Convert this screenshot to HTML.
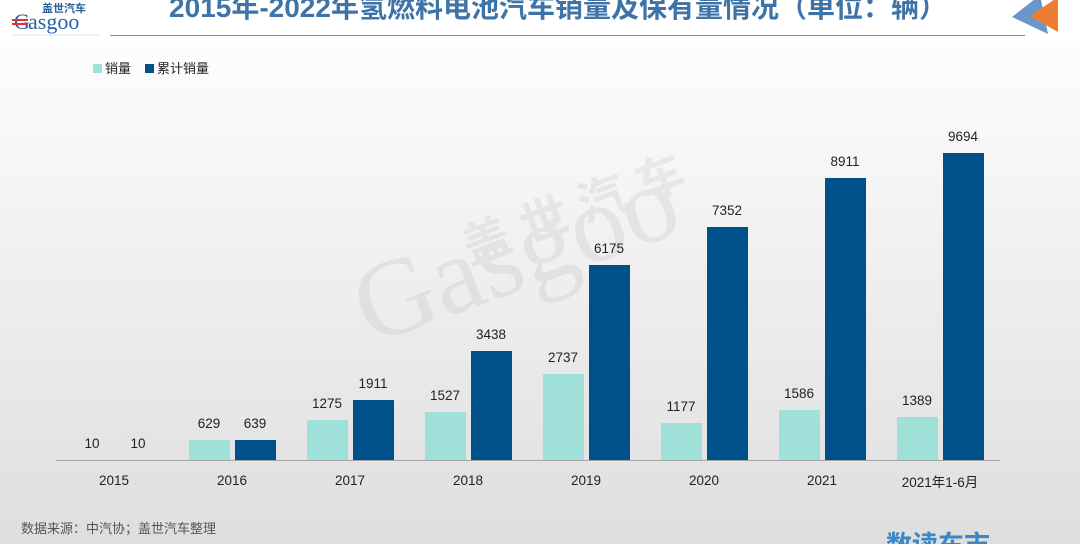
<!DOCTYPE html>
<html><head><meta charset="utf-8"><style>
html,body{margin:0;padding:0;}
body{width:1080px;height:544px;overflow:hidden;font-family:"Liberation Sans","Noto Sans CJK SC",sans-serif;}
</style></head><body>
<svg width="1080" height="544" viewBox="0 0 1080 544" xmlns="http://www.w3.org/2000/svg" font-family="Liberation Sans, Noto Sans CJK SC, sans-serif">
<defs><linearGradient id="bg" x1="0" y1="0" x2="0" y2="1">
<stop offset="0" stop-color="#ffffff"/><stop offset="0.15" stop-color="#fbfbfb"/><stop offset="1" stop-color="#dedede"/></linearGradient></defs>
<rect width="1080" height="544" fill="url(#bg)"/>
<rect width="1080" height="40" fill="#ffffff"/>
<!-- logo -->
<text x="42" y="12" font-size="11" font-weight="bold" fill="#2a5fa0">盖世汽车</text>
<text x="28" y="29" font-size="22" fill="#2a5fa0" font-family="Liberation Serif, serif">asgoo</text>
<text x="14" y="29" font-size="22" fill="#2a5fa0" font-family="Liberation Serif, serif">G</text>
<rect x="12" y="19" width="16" height="2" fill="#d33"/><rect x="12" y="23" width="16" height="2" fill="#d33"/>
<line x1="12" y1="35" x2="100" y2="35" stroke="#ccc" stroke-width="0.6"/>
<!-- title -->
<text x="558" y="17" text-anchor="middle" font-size="28" font-weight="bold" fill="#3e73a8">2015年-2022年氢燃料电池汽车销量及保有量情况（单位：辆）</text>
<line x1="110" y1="35.5" x2="1025" y2="35.5" stroke="#7a8ea8" stroke-width="1"/>
<polygon points="1012,17 1040,-5 1048,34" fill="#6b96c8"/>
<polygon points="1030,16 1058,-3 1058,32" fill="#ee7d32"/>
<!-- legend -->
<rect x="93" y="64" width="9" height="9" fill="#9fe0d8"/>
<text x="105" y="73" font-size="13" fill="#222">销量</text>
<rect x="145" y="64" width="9" height="9" fill="#005189"/>
<text x="157" y="73" font-size="13" fill="#222">累计销量</text>
<!-- watermark -->
<g opacity="0.05" fill="#000">
<text x="470" y="265" font-size="48" font-weight="bold" transform="rotate(-20 470 265)">盖 世 汽 车</text>
<text x="370" y="345" font-size="110" font-family="Liberation Serif, serif" transform="rotate(-20 370 345)">Gasgoo</text>
</g>
<!-- axis -->
<line x1="56" y1="460.5" x2="1000" y2="460.5" stroke="#a8a8a8" stroke-width="1"/>
<g fill="#9fe0d8">
<rect x="189" y="440" width="41" height="20"/>
<rect x="307" y="420" width="41" height="40"/>
<rect x="425" y="412" width="41" height="48"/>
<rect x="543" y="374" width="41" height="86"/>
<rect x="661" y="423" width="41" height="37"/>
<rect x="779" y="410" width="41" height="50"/>
<rect x="897" y="417" width="41" height="43"/>
</g>
<g fill="#005189">
<rect x="235" y="440" width="41" height="20"/>
<rect x="353" y="400" width="41" height="60"/>
<rect x="471" y="351" width="41" height="109"/>
<rect x="589" y="265" width="41" height="195"/>
<rect x="707" y="227" width="41" height="233"/>
<rect x="825" y="178" width="41" height="282"/>
<rect x="943" y="153" width="41" height="307"/>
</g>
<g font-size="13.5" fill="#222" text-anchor="middle">
<text x="92" y="448">10</text><text x="138" y="448">10</text>
<text x="209" y="428">629</text><text x="255" y="428">639</text>
<text x="327" y="408">1275</text><text x="373" y="388">1911</text>
<text x="445" y="400">1527</text><text x="491" y="339">3438</text>
<text x="563" y="362">2737</text><text x="609" y="253">6175</text>
<text x="681" y="411">1177</text><text x="727" y="215">7352</text>
<text x="799" y="398">1586</text><text x="845" y="166">8911</text>
<text x="917" y="405">1389</text><text x="963" y="141">9694</text>
</g>
<g font-size="13.5" fill="#222" text-anchor="middle">
<text x="114" y="485">2015</text><text x="232" y="485">2016</text>
<text x="350" y="485">2017</text><text x="468" y="485">2018</text>
<text x="586" y="485">2019</text><text x="704" y="485">2020</text>
<text x="822" y="485">2021</text><text x="940" y="487">2021年1-6月</text>
</g>
<text x="21" y="533" font-size="13" fill="#555">数据来源：中汽协；盖世汽车整理</text>
<text x="886" y="554" font-size="26" font-weight="bold" fill="#3a86c8">数读车市</text>
</svg>
</body></html>
